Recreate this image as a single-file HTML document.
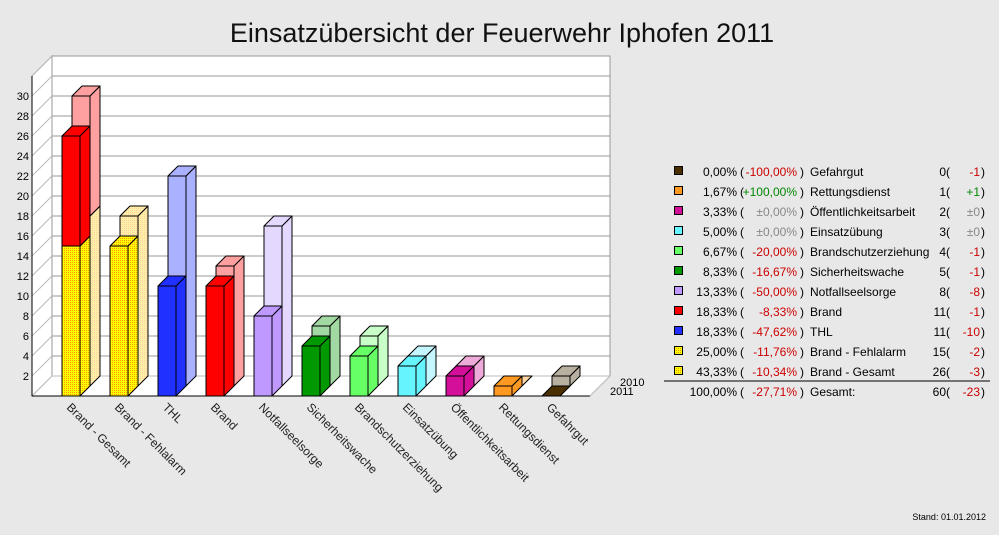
<!DOCTYPE html>
<html><head><meta charset="utf-8"><style>
body{margin:0;background:#e8e8e8;}
svg{display:block;font-family:"Liberation Sans",sans-serif;}
</style></head><body>
<svg id="s" width="999" height="535" xmlns="http://www.w3.org/2000/svg">
<defs>
<pattern id="py" width="2" height="2" patternUnits="userSpaceOnUse"><rect width="2" height="2" fill="#ffff00"/><rect width="1" height="1" fill="#ff9900"/></pattern>
<pattern id="pl" width="2" height="2" patternUnits="userSpaceOnUse"><rect width="2" height="2" fill="#fff0a8"/><rect width="1" height="1" fill="#ffd0a0"/></pattern>
</defs>
<rect width="999" height="535" fill="#e8e8e8"/>
<text x="502" y="42" font-size="27" text-anchor="middle" fill="#111">Einsatzübersicht der Feuerwehr Iphofen 2011</text>
<g id="g"></g>
<text x="986" y="520" font-size="9" text-anchor="end">Stand: 01.01.2012</text>
</svg>
<script>
var g=document.getElementById('g'),h='';
h+='<rect x="52" y="56" width="558" height="320" fill="#fff" stroke="#999"/>';
h+='<polygon points="32,76 52,56 52,376 32,396" fill="#fff" stroke="#999"/>';
h+='<polygon points="32,396 52,376 610,376 590,396" fill="#fff" stroke="#bbb"/>';
for(var v=2;v<=32;v+=2){var y=376-10*v;h+='<line x1="52" y1="'+y+'" x2="610" y2="'+y+'" stroke="#999"/>';h+='<line x1="32" y1="'+(y+20)+'" x2="52" y2="'+y+'" stroke="#bbb"/>';if(v<=30)h+='<text x="29" y="'+(y+24)+'" font-size="11" text-anchor="end">'+v+'</text>';}
h+='<line x1="32" y1="76" x2="32" y2="396" stroke="#000"/><line x1="32" y1="396" x2="590" y2="396" stroke="#000"/>';
function box(x,yb,hh,c){var w=18,d=10,t=yb-hh;return '<g stroke="#000" stroke-width="1" stroke-linejoin="round"><polygon points="'+(x+w)+','+yb+' '+(x+w+d)+','+(yb-d)+' '+(x+w+d)+','+(t-d)+' '+(x+w)+','+t+'" fill="'+c+'"/><polygon points="'+x+','+t+' '+(x+d)+','+(t-d)+' '+(x+w+d)+','+(t-d)+' '+(x+w)+','+t+'" fill="'+c+'"/>'+(hh>0?'<rect x="'+x+'" y="'+t+'" width="'+w+'" height="'+hh+'" fill="'+c+'"/>':'')+'</g>';}
var data=[
['Brand - Gesamt',null,null],
['Brand - Fehlalarm',[15,'url(#py)'],[17,'url(#pl)']],
['THL',[11,'#2030ff'],[21,'#aab2ff']],
['Brand',[11,'#ff0000'],[12,'#ffa0a0']],
['Notfallseelsorge',[8,'#bf99ff'],[16,'#e4d8ff']],
['Sicherheitswache',[5,'#009900'],[6,'#a2d8a2']],
['Brandschutzerziehung',[4,'#66ff66'],[5,'#c8ffc8']],
['Einsatzübung',[3,'#66f5ff'],[3,'#c4f6ff']],
['Öffentlichkeitsarbeit',[2,'#d4109a'],[2,'#eeaad8']],
['Rettungsdienst',[1,'#ff9922'],[0,'#ffd8a8']],
['Gefahrgut',[0,'#4a3000'],[1,'#b8b0a0']]];
for(var i=0;i<11;i++){var x=62+48*i;
 if(i==0){h+=box(x+10,386,170,'url(#pl)')+box(x+10,216,120,'#ffa0a0');h+=box(x,396,150,'url(#py)')+box(x,246,110,'#ff0000');}
 else{h+=box(x+10,386,data[i][2][0]*10,data[i][2][1]);h+=box(x,396,data[i][1][0]*10,data[i][1][1]);}
 h+='<text transform="translate('+(x+4)+',408) rotate(45)" font-size="12" fill="#222">'+data[i][0]+'</text>';}
h+='<line x1="590" y1="396" x2="610" y2="376" stroke="#bbb"/>';
h+='<text x="620" y="386" font-size="11">2010</text><text x="610" y="395" font-size="11">2011</text>';
var L=[['#4a3000','0,00%','-100,00%','r','Gefahrgut','0','-1','r'],
['#ff9922','1,67%','+100,00%','g','Rettungsdienst','1','+1','g'],
['#d4109a','3,33%','±0,00%','k','Öffentlichkeitsarbeit','2','±0','k'],
['#66f5ff','5,00%','±0,00%','k','Einsatzübung','3','±0','k'],
['#66ff66','6,67%','-20,00%','r','Brandschutzerziehung','4','-1','r'],
['#009900','8,33%','-16,67%','r','Sicherheitswache','5','-1','r'],
['#bf99ff','13,33%','-50,00%','r','Notfallseelsorge','8','-8','r'],
['#ff0000','18,33%','-8,33%','r','Brand','11','-1','r'],
['#2030ff','18,33%','-47,62%','r','THL','11','-10','r'],
['url(#py)','25,00%','-11,76%','r','Brand - Fehlalarm','15','-2','r'],
['url(#py)','43,33%','-10,34%','r','Brand - Gesamt','26','-3','r']];
var col={r:'#cc0000',g:'#008800',k:'#888'};
function row(y,r,box){var s='';if(box)s+='<rect x="674.5" y="'+(y-9.5)+'" width="8" height="8" fill="'+r[0]+'" stroke="#000"/>';
s+='<text x="737" y="'+y+'" font-size="12" text-anchor="end">'+r[1]+'</text><text x="740" y="'+y+'" font-size="12">(</text>';
s+='<text x="797" y="'+y+'" font-size="12" text-anchor="end" fill="'+col[r[3]]+'">'+r[2]+'</text><text x="800" y="'+y+'" font-size="12">)</text>';
s+='<text x="810" y="'+y+'" font-size="12">'+r[4]+'</text>';
s+='<text x="946" y="'+y+'" font-size="12" text-anchor="end">'+r[5]+'</text><text x="946" y="'+y+'" font-size="12">(</text>';
s+='<text x="980" y="'+y+'" font-size="12" text-anchor="end" fill="'+col[r[7]]+'">'+r[6]+'</text><text x="981" y="'+y+'" font-size="12">)</text>';return s;}
for(var j=0;j<11;j++)h+=row(176+20*j,L[j],true);
h+='<line x1="664" y1="381" x2="990" y2="381" stroke="#000"/>';
h+=row(396,['','100,00%','-27,71%','r','Gesamt:','60','-23','r'],false);
g.innerHTML=h;
</script>
</body></html>
